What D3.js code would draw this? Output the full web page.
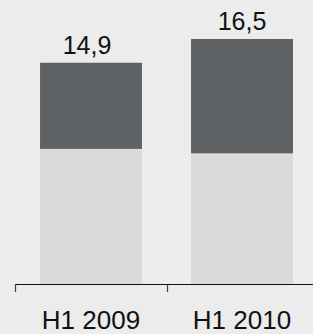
<!DOCTYPE html>
<html>
<head>
<meta charset="utf-8">
<script src="https://cdn.jsdelivr.net/npm/d3@7"></script>
<style>
body { margin: 0; background: #ebeceb; }
svg { display: block; font-family: "Liberation Sans", Arial, sans-serif; }
</style>
</head>
<body>
<script>
// half-year categories and stacked parts (bottom + top = total)
var categories = ['H1 2009', 'H1 2010'];
var lowerVals = [9.1, 8.8];
var upperVals = [5.8, 7.7];
var totalLabels = ['14,9', '16,5'];

var width = 313, height = 334;

var svg = d3.select('body').append('svg')
    .attr('width', width)
    .attr('height', height);

svg.append('rect')
    .attr('width', width)
    .attr('height', height)
    .attr('fill', '#ebeceb');

// band scale: boundaries give the tick marks, bands hold the bars
var x = d3.scaleBand()
    .domain(categories)
    .range([15.5, 317.5])
    .paddingInner(0.325)
    .paddingOuter(0.1625);

var y = d3.scaleLinear()
    .domain([0, 16.5])
    .range([284, 39]);

var rows = categories.map(function(c, i) {
    return { cat: c, lower: lowerVals[i], upper: upperVals[i], label: totalLabels[i] };
});

// light bottom segment
svg.selectAll('.lower')
    .data(rows)
    .enter().append('rect')
    .attr('class', 'lower')
    .attr('x', function(d) { return x(d.cat); })
    .attr('width', x.bandwidth())
    .attr('y', function(d) { return y(d.lower); })
    .attr('height', function(d) { return y(0) - y(d.lower); })
    .attr('fill', '#d9dad9');

// dark top segment
svg.selectAll('.upper')
    .data(rows)
    .enter().append('rect')
    .attr('class', 'upper')
    .attr('x', function(d) { return x(d.cat); })
    .attr('width', x.bandwidth())
    .attr('y', function(d) { return y(d.lower + d.upper); })
    .attr('height', function(d) { return y(d.lower) - y(d.lower + d.upper); })
    .attr('fill', '#5f6265');

// total labels above bars (first one sits a little left in the original)
svg.selectAll('.total')
    .data(rows)
    .enter().append('text')
    .attr('class', 'total')
    .attr('x', function(d) { return x(d.cat) + x.bandwidth() / 2; })
    .attr('dx', function(d, i) { return i === 0 ? -4 : 0; })
    .attr('y', function(d) { return y(d.lower + d.upper) - 9; })
    .attr('text-anchor', 'middle')
    .attr('font-size', 25)
    .attr('fill', '#111')
    .text(function(d) { return d.label; });

// axis line with ticks on band boundaries
var axisY = 284.5;
svg.append('line')
    .attr('x1', 15).attr('x2', width)
    .attr('y1', axisY).attr('y2', axisY)
    .attr('stroke', '#111').attr('stroke-width', 1.2);

var edges = categories.map(function(c) { return x(c) - x.step() * x.paddingOuter(); });
svg.selectAll('.tick')
    .data(edges)
    .enter().append('line')
    .attr('class', 'tick')
    .attr('x1', function(d) { return Math.round(d) + 0.5; })
    .attr('x2', function(d) { return Math.round(d) + 0.5; })
    .attr('y1', axisY).attr('y2', 292)
    .attr('stroke', '#444').attr('stroke-width', 1.2);

// category labels
svg.selectAll('.cat')
    .data(rows)
    .enter().append('text')
    .attr('class', 'cat')
    .attr('x', function(d) { return x(d.cat) + x.bandwidth() / 2; })
    .attr('y', 329)
    .attr('text-anchor', 'middle')
    .attr('font-size', 26)
    .attr('fill', '#111')
    .text(function(d) { return d.cat; });
</script>
</body>
</html>
